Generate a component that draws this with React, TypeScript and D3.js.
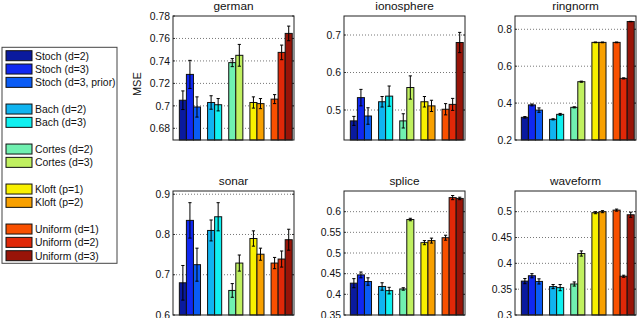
import React from 'react'
import * as d3 from 'd3'

const methods = [
  'Stoch (d=2)', 'Stoch (d=3)', 'Stoch (d=3, prior)',
  'Bach (d=2)', 'Bach (d=3)',
  'Cortes (d=2)', 'Cortes (d=3)',
  'Kloft (p=1)', 'Kloft (p=2)',
  'Uniform (d=1)', 'Uniform (d=2)', 'Uniform (d=3)',
]
const colors = [
  '#0a1a9e', '#1028f0', '#0a5cf5',
  '#10b4f0', '#10f0f0',
  '#70f0b0', '#c0f060',
  '#f8f000', '#f8a000',
  '#f85000', '#e02808', '#981408',
]
// bar slot / legend row for each method (gaps between families)
const slots = [0, 1, 2, 4, 5, 7, 8, 10, 11, 13, 14, 15]

const datasets = ['german', 'ionosphere', 'ringnorm', 'sonar', 'splice', 'waveform']

const germanMean = [0.705, 0.728, 0.699, 0.703, 0.701, 0.7385, 0.745, 0.703, 0.702, 0.706, 0.7476, 0.7645]
const germanErr = [0.0083, 0.0125, 0.009, 0.006, 0.0055, 0.0036, 0.0097, 0.005, 0.0045, 0.004, 0.0065, 0.0065]
const ionosphereMean = [0.471, 0.533, 0.484, 0.522, 0.537, 0.471, 0.56, 0.522, 0.511, 0.502, 0.515, 0.68]
const ionosphereErr = [0.012, 0.022, 0.022, 0.014, 0.027, 0.019, 0.031, 0.014, 0.015, 0.015, 0.016, 0.027]
const ringnormMean = [0.323, 0.39, 0.362, 0.312, 0.339, 0.377, 0.516, 0.729, 0.729, 0.729, 0.534, 0.842]
const ringnormErr = [0.004, 0.005, 0.012, 0.003, 0.005, 0.003, 0.003, 0.002, 0.002, 0.002, 0.003, 0.001]
const sonarMean = [0.68, 0.835, 0.725, 0.81, 0.844, 0.661, 0.729, 0.79, 0.751, 0.729, 0.739, 0.787]
const sonarErr = [0.043, 0.044, 0.041, 0.026, 0.035, 0.017, 0.02, 0.019, 0.015, 0.014, 0.02, 0.026]
const spliceMean = [0.427, 0.447, 0.431, 0.419, 0.409, 0.413, 0.581, 0.525, 0.53, 0.537, 0.634, 0.632]
const spliceErr = [0.011, 0.007, 0.009, 0.009, 0.008, 0.003, 0.003, 0.005, 0.006, 0.006, 0.005, 0.003]
const waveformMean = [0.3656, 0.376, 0.365, 0.355, 0.353, 0.36, 0.419, 0.498, 0.5, 0.503, 0.375, 0.494]
const waveformErr = [0.005, 0.004, 0.005, 0.004, 0.006, 0.004, 0.005, 0.002, 0.002, 0.002, 0.002, 0.005]

const germanTicks = [0.68, 0.7, 0.72, 0.74, 0.76, 0.78]
const ionosphereTicks = [0.5, 0.6, 0.7]
const ringnormTicks = [0.2, 0.4, 0.6, 0.8]
const sonarTicks = [0.6, 0.7, 0.8, 0.9]
const spliceTicks = [0.35, 0.4, 0.45, 0.5, 0.55, 0.6]
const waveformTicks = [0.3, 0.35, 0.4, 0.45, 0.5]

const yLimits = [
  [0.6696, 0.78], [0.42, 0.7507], [0.2, 0.872],
  [0.6, 0.908], [0.35, 0.65], [0.3, 0.54],
]

const means = [germanMean, ionosphereMean, ringnormMean, sonarMean, spliceMean, waveformMean]
const errs = [germanErr, ionosphereErr, ringnormErr, sonarErr, spliceErr, waveformErr]
const ticks = [germanTicks, ionosphereTicks, ringnormTicks, sonarTicks, spliceTicks, waveformTicks]

const FONT = '"Liberation Sans", Arial, Helvetica, sans-serif'
const W = 640
const H = 318
const colLeft = [173, 344, 515]
const rowTop = [16, 191]
const PW = 121
const PH = 124

function Panel({ i }: { i: number }) {
  const left = colLeft[i % 3]
  const top = rowTop[Math.floor(i / 3)]
  const x = d3.scaleLinear().domain([-0.9, 16.25]).range([0, PW])
  const y = d3.scaleLinear().domain(yLimits[i]).range([PH, 0])
  const fmt = (v: number) => String(+v.toFixed(2))
  const base = y(yLimits[i][0])

  return (
    <g transform={`translate(${left},${top})`}>
      <rect x={0} y={0} width={PW} height={PH} fill="#fff" />
      {ticks[i].map(t => (
        <g key={t}>
          {y(t) > 1 && y(t) < PH - 1 && (
            <line x1={0} x2={PW} y1={y(t)} y2={y(t)} stroke="#777" strokeWidth={1} strokeDasharray="1 2" />
          )}
          <line x1={0} x2={2} y1={y(t)} y2={y(t)} stroke="#333" />
          <line x1={PW - 2} x2={PW} y1={y(t)} y2={y(t)} stroke="#333" />
          <text x={-3} y={y(t) + 3.7} textAnchor="end" fontSize={10.4} fontFamily={FONT} fill="#111">
            {fmt(t)}
          </text>
        </g>
      ))}
      {means[i].map((m, k) => {
        const x0 = x(slots[k])
        const bw = x(slots[k] + 1) - x0
        const cx = x0 + bw / 2
        const e = errs[i][k]
        return (
          <g key={k}>
            <rect x={x0} y={y(m)} width={bw} height={base - y(m)} fill={colors[k]} stroke="#111" strokeWidth={1} />
            <line x1={cx} x2={cx} y1={y(m + e)} y2={y(m - e)} stroke="#000" strokeWidth={1} />
            <line x1={cx - 1.6} x2={cx + 1.6} y1={y(m + e)} y2={y(m + e)} stroke="#000" strokeWidth={1} />
            <line x1={cx - 1.6} x2={cx + 1.6} y1={y(m - e)} y2={y(m - e)} stroke="#000" strokeWidth={1} />
          </g>
        )
      })}
      <rect x={0} y={0} width={PW} height={PH} fill="none" stroke="#222" strokeWidth={1} />
      <text x={PW / 2} y={-6.5} textAnchor="middle" fontSize={11.8} fontFamily={FONT} fill="#111">
        {datasets[i]}
      </text>
      {i === 0 && (
        <text transform={`translate(-32,${PH * 0.55}) rotate(-90)`} textAnchor="middle" fontSize={11} fontFamily={FONT} fill="#111">
          MSE
        </text>
      )}
    </g>
  )
}

function Legend() {
  const row = d3.scaleLinear().domain([0, 15]).range([55.7, 255.7])
  return (
    <g>
      <rect x={2} y={47.3} width={115} height={216} fill="#fff" stroke="#444" strokeWidth={1} />
      {methods.map((m, k) => (
        <g key={m}>
          <rect x={6} y={row(slots[k]) - 5} width={26} height={10} fill={colors[k]} stroke="#111" strokeWidth={1} />
          <text x={35} y={row(slots[k]) + 3.8} fontSize={10.4} fontFamily={FONT} fill="#111">
            {m}
          </text>
        </g>
      ))}
    </g>
  )
}

export default function App() {
  return (
    <svg width={W} height={H} style={{ position: 'absolute', left: 0, top: 0, background: '#fff' }}>
      <rect width={W} height={H} fill="#fff" />
      <Legend />
      {datasets.map((d, i) => <Panel key={d} i={i} />)}
    </svg>
  )
}
